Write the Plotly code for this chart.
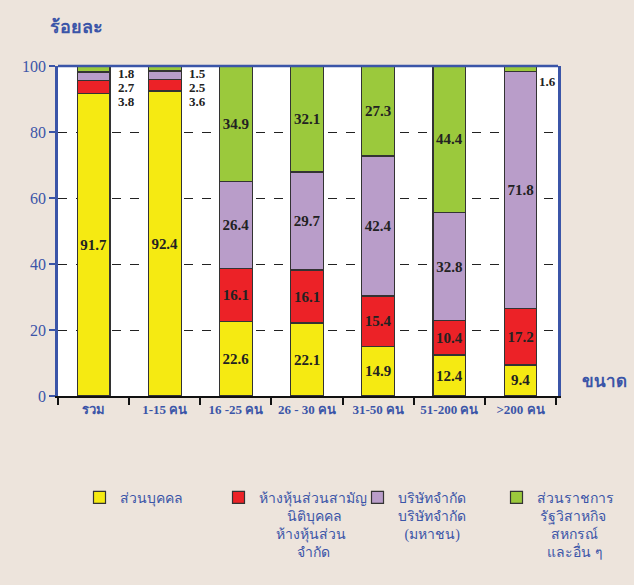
import plotly.graph_objects as go

NB = "\u00a0"
categories = ["รวม", "1-15 คน", "16 -25 คน", "26 - 30 คน", "31-50 คน", "51-200 คน", ">200 คน"]
series_names = [
    "ส่วนบุคคล",
    "ห้างหุ้นส่วนสามัญ<br>" + NB * 8 + "นิติบุคคล<br>" + NB * 5 + "ห้างหุ้นส่วน<br>" + NB * 11 + "จำกัด",
    "บริษัทจำกัด<br>บริษัทจำกัด<br>" + NB * 2 + "(มหาชน)",
    "ส่วนราชการ<br>" + NB * 1 + "รัฐวิสาหกิจ<br>" + NB * 4 + "สหกรณ์<br>" + NB * 3 + "และอื่น ๆ",
]
individual = [91.7, 92.4, 22.6, 22.1, 14.9, 12.4, 9.4]
partnership = [3.8, 3.6, 16.1, 16.1, 15.4, 10.4, 17.2]
company = [2.7, 2.5, 26.4, 29.7, 42.4, 32.8, 71.8]
government = [1.8, 1.5, 34.9, 32.1, 27.3, 44.4, 1.6]
y_ticks = [0, 20, 40, 60, 80, 100]

colors = ["#f5ea12", "#ec2227", "#b99dc9", "#9bc93c"]
series = [individual, partnership, company, government]

BLUE = "#3b55a8"
BG = "#ede4dc"
NUMFONT = dict(family="Liberation Serif", size=15, color="#222222")
SMALLFONT = dict(family="Liberation Serif", size=13, color="#222222")

fig = go.Figure()
for name, vals, col in zip(series_names, series, colors):
    texts = [f"{v:.1f}" if v >= 5 else "" for v in vals]
    fig.add_trace(go.Bar(
        x=categories, y=vals, name=name,
        marker=dict(color=col, line=dict(color="#333333", width=1.2)),
        text=texts, textposition="inside", insidetextanchor="middle",
        textangle=0, textfont=NUMFONT,
        hoverinfo="skip",
    ))

# small values written to the right of the bars
small_offsets = [-7, -21, -35]
for ci, cat in enumerate(categories):
    stack_small = [government[ci], company[ci], partnership[ci]]
    n_small = sum(1 for v in stack_small if v < 5)
    if n_small >= 2:
        for k, v in enumerate(stack_small):
            fig.add_annotation(x=cat, y=100, xref="x", yref="y",
                               text=f"<b>{v:.1f}</b>", showarrow=False,
                               xshift=33, yshift=small_offsets[k],
                               font=SMALLFONT)
    elif government[ci] < 5:
        fig.add_annotation(x=cat, y=100, xref="x", yref="y",
                           text=f"<b>{government[ci]:.1f}</b>", showarrow=False,
                           xshift=27, yshift=-15, font=SMALLFONT)

fig.update_traces(texttemplate="<b>%{text}</b>")

fig.add_annotation(x=-0.02, y=1.118, xref="paper", yref="paper", text="<b>ร้อยละ</b>",
                   showarrow=False, xanchor="left", yanchor="middle",
                   font=dict(size=18, color=BLUE))
fig.add_annotation(x=1.044, y=0.045, xref="paper", yref="paper", text="<b>ขนาด</b>",
                   showarrow=False, xanchor="left", yanchor="middle",
                   font=dict(size=17, color=BLUE))
# top border of the plot area
fig.add_shape(type="line", xref="paper", yref="paper", x0=0, x1=1, y0=1, y1=1,
              line=dict(color=BLUE, width=2.5))

fig.update_layout(
    barmode="stack", bargap=0.54,
    width=634, height=585,
    margin=dict(l=58, r=76, t=66, b=189, autoexpand=False),
    paper_bgcolor=BG, plot_bgcolor="white",
    font=dict(family="Liberation Serif", color=BLUE),
    showlegend=True,
    legend=dict(orientation="h", x=1.155, y=-0.26, xanchor="right", yanchor="top",
                traceorder="normal", valign="top", entrywidth=94,
                font=dict(size=14, color=BLUE), bgcolor="rgba(0,0,0,0)"),
    xaxis=dict(showline=True, linecolor="#111111", linewidth=2,
               ticks="outside", tickson="boundaries", ticklen=7, tickwidth=2,
               tickcolor="#111111", tickangle=0, automargin=False,
               tickfont=dict(size=13, color=BLUE), showgrid=False),
    yaxis=dict(range=[0, 100], tickvals=y_ticks, showline=True, linecolor=BLUE,
               linewidth=2.5, mirror=True, ticks="outside", ticklen=6, tickwidth=2,
               tickcolor=BLUE, automargin=False,
               tickfont=dict(size=16, color=BLUE, family="Liberation Serif"),
               showgrid=True, gridcolor="#222222", griddash="dash", gridwidth=1,
               zeroline=False),
)
fig.update_yaxes(tickprefix="<b>", ticksuffix="</b>")
fig.update_xaxes(tickprefix="<b>", ticksuffix="</b>")

fig.write_html("out.html", config={"displayModeBar": False},
               post_script="document.body.style.margin='0';")
